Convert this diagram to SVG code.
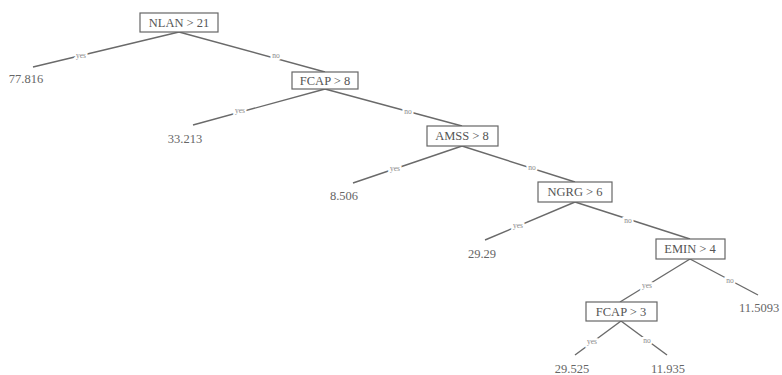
<svg xmlns="http://www.w3.org/2000/svg" width="782" height="375" viewBox="0 0 782 375">
<style>
.box{fill:#fff;stroke:#666;stroke-width:1.2}
.nt{font-family:'Liberation Serif','DejaVu Serif','Times New Roman',serif;font-size:12.5px;fill:#555;text-anchor:middle}
.lf{font-family:'Liberation Serif','DejaVu Serif','Times New Roman',serif;font-size:12.5px;fill:#666;text-anchor:middle}
.e{stroke:#6a6a6a;stroke-width:1.4;fill:none}
.el{font-family:'Liberation Serif','DejaVu Serif',serif;font-size:7.5px;fill:#888;text-anchor:middle;dominant-baseline:central;stroke:#fff;stroke-width:4;paint-order:stroke}
</style>
<rect width="782" height="375" fill="#fff"/>
<g id="connectors">
<line class="e" x1="179" y1="32" x2="33" y2="67"/>
<line class="e" x1="179" y1="32" x2="325" y2="72"/>
<line class="e" x1="325" y1="89" x2="193" y2="125"/>
<line class="e" x1="325" y1="89" x2="462" y2="126"/>
<line class="e" x1="462" y1="146" x2="353" y2="183"/>
<line class="e" x1="462" y1="146" x2="575" y2="182"/>
<line class="e" x1="575" y1="202" x2="485" y2="240"/>
<line class="e" x1="575" y1="202" x2="690" y2="239"/>
<line class="e" x1="690" y1="259" x2="620" y2="302"/>
<line class="e" x1="690" y1="259" x2="758" y2="295"/>
<line class="e" x1="621" y1="321" x2="575" y2="355"/>
<line class="e" x1="621" y1="321" x2="667" y2="355"/>
<text class="el" x="81" y="55">yes</text>
<text class="el" x="276" y="55">no</text>
<text class="el" x="240" y="110">yes</text>
<text class="el" x="408" y="111">no</text>
<text class="el" x="395" y="168">yes</text>
<text class="el" x="532" y="167">no</text>
<text class="el" x="518" y="225">yes</text>
<text class="el" x="628" y="220">no</text>
<text class="el" x="647" y="285">yes</text>
<text class="el" x="730" y="280">no</text>
<text class="el" x="592" y="341">yes</text>
<text class="el" x="647" y="340">no</text>
</g>
<g id="n_nlan"><rect class="box" x="140" y="13" width="78" height="19"/><text class="nt" x="179" y="27">NLAN &gt; 21</text></g>
<g id="leaf_77816"><text class="lf" x="26" y="83">77.816</text></g>
<g id="n_fcap8"><rect class="box" x="292" y="72" width="66" height="17"/><text class="nt" x="325" y="85">FCAP &gt; 8</text></g>
<g id="leaf_33213"><text class="lf" x="185" y="143">33.213</text></g>
<g id="n_amss"><rect class="box" x="427" y="126" width="71" height="20"/><text class="nt" x="462" y="140">AMSS &gt; 8</text></g>
<g id="leaf_8506"><text class="lf" x="344" y="200">8.506</text></g>
<g id="n_ngrg"><rect class="box" x="538" y="182" width="74" height="20"/><text class="nt" x="575" y="196">NGRG &gt; 6</text></g>
<g id="leaf_2929"><text class="lf" x="482" y="258">29.29</text></g>
<g id="n_emin"><rect class="box" x="656" y="239" width="69" height="20"/><text class="nt" x="690" y="253">EMIN &gt; 4</text></g>
<g id="leaf_115093"><text class="lf" x="739" y="312" style="text-anchor:start">11.5093</text></g>
<g id="n_fcap3"><rect class="box" x="586" y="302" width="71" height="19"/><text class="nt" x="621" y="316">FCAP &gt; 3</text></g>
<g id="leaf_29525"><text class="lf" x="572" y="373">29.525</text></g>
<g id="leaf_11935"><text class="lf" x="668" y="373">11.935</text></g>
</svg>
